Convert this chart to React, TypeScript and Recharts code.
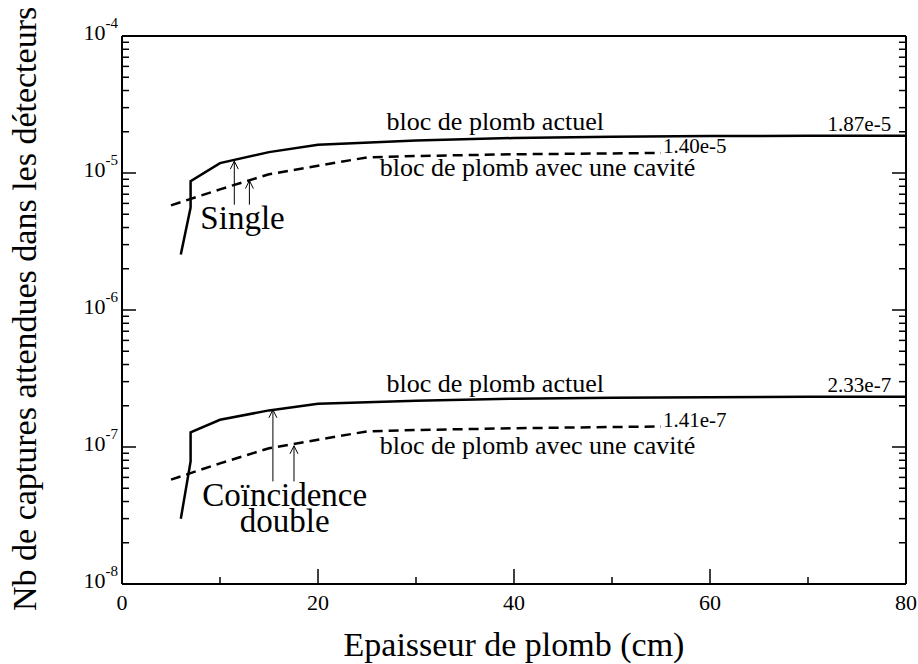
import React from 'react';
import { LineChart, Line, XAxis, YAxis, ReferenceLine, ReferenceDot } from 'recharts';

// épaisseur de plomb (cm)
const xActuel = [6, 7, 7, 10, 15, 20, 30, 40, 50, 60, 70, 80];
const xCavite = [5, 10, 15, 20, 25, 30, 40, 50, 55];

const singleActuel = [2.54e-6, 5.6e-6, 8.7e-6, 1.18e-5, 1.42e-5, 1.61e-5, 1.73e-5, 1.8e-5, 1.84e-5, 1.86e-5, 1.87e-5, 1.87e-5];
const singleCavite = [5.8e-6, 7.6e-6, 9.8e-6, 1.13e-5, 1.3e-5, 1.33e-5, 1.37e-5, 1.39e-5, 1.4e-5];
const doubleActuel = [2.99e-8, 7.85e-8, 1.28e-7, 1.58e-7, 1.85e-7, 2.07e-7, 2.18e-7, 2.25e-7, 2.29e-7, 2.31e-7, 2.33e-7, 2.33e-7];
const doubleCavite = [5.78e-8, 7.6e-8, 9.8e-8, 1.13e-7, 1.3e-7, 1.33e-7, 1.37e-7, 1.4e-7, 1.41e-7];

const xTicks = [0, 10, 20, 30, 40, 50, 60, 70, 80];
const xMajor = [0, 20, 40, 60, 80];
const decades = [-8, -7, -6, -5, -4];
const yTicks = decades.flatMap((e) =>
  e === -4 ? [1e-4] : [1, 2, 3, 4, 5, 6, 7, 8, 9].map((m) => m * Math.pow(10, e))
);

const FONT = 'Liberation Serif';
const serif = { fontFamily: FONT };

const toRows = (xs: number[], ys: number[]) => xs.map((x, i) => ({ x, y: ys[i] }));

const isMajorY = (v: number) => {
  const l = Math.log10(v);
  return Math.abs(l - Math.round(l)) < 1e-6;
};

const LeftTick = (props: any) => {
  const { x, y, payload } = props;
  const v = payload.value;
  const major = isMajorY(v);
  const exp = Math.round(Math.log10(v));
  return (
    <g>
      <line x1={x} x2={x + (major ? 14 : 7)} y1={y} y2={y} stroke="#000" strokeWidth={1.5} />
      {major && (
        <text x={x - 4} y={y + 4} textAnchor="end" style={serif} fontSize={22} fill="#000">
          10<tspan dy={-12} fontSize={15}>{exp}</tspan>
        </text>
      )}
    </g>
  );
};

const RightTick = (props: any) => {
  const { x, y, payload } = props;
  const major = isMajorY(payload.value);
  return <line x1={x} x2={x - (major ? 14 : 7)} y1={y} y2={y} stroke="#000" strokeWidth={1.5} />;
};

const BottomTick = (props: any) => {
  const { x, y, payload } = props;
  const major = xMajor.includes(payload.value);
  return (
    <g>
      <line x1={x} x2={x} y1={y} y2={y - (major ? 15 : 7)} stroke="#000" strokeWidth={1.5} />
      {major && (
        <text x={x} y={y + 26} textAnchor="middle" style={serif} fontSize={22} fill="#000">
          {payload.value}
        </text>
      )}
    </g>
  );
};

const TopTick = (props: any) => {
  const { x, y, payload } = props;
  const major = xMajor.includes(payload.value);
  return <line x1={x} x2={x} y1={y} y2={y + (major ? 15 : 7)} stroke="#000" strokeWidth={1.5} />;
};

const arrowShape = (p: any) => (
  <g>
    <line x1={p.x1} y1={p.y1} x2={p.x2} y2={p.y2} stroke="#000" strokeWidth={1} />
    <polyline
      points={`${p.x2 - 4},${p.y2 + 8} ${p.x2},${p.y2} ${p.x2 + 4},${p.y2 + 8}`}
      fill="none"
      stroke="#000"
      strokeWidth={1}
    />
  </g>
);

const textShape = (label: string, size: number, anchor: string, dx: number, dy: number) => (p: any) => (
  <text x={p.cx + dx} y={p.cy + dy} textAnchor={anchor} style={serif} fontSize={size} fill="#000">
    {label}
  </text>
);

const axisProps = { stroke: '#000', strokeWidth: 2 };

export default function App() {
  return (
    <div style={{ position: 'absolute', left: 0, top: 0, width: 918, height: 664, fontFamily: FONT }}>
      <LineChart width={918} height={664} margin={{ top: 0, right: 0, bottom: 0, left: 0 }}>
        <XAxis
          xAxisId="bottom"
          dataKey="x"
          type="number"
          domain={[0, 80]}
          ticks={xTicks}
          interval={0}
          height={80}
          tickSize={0}
          tickMargin={0}
          tickLine={false}
          axisLine={axisProps}
          tick={<BottomTick />}
          label={{
            content: (p: any) => (
              <text
                x={p.viewBox.x + p.viewBox.width / 2}
                y={p.viewBox.y + 72}
                textAnchor="middle"
                style={serif}
                fontSize={34}
                fill="#000"
              >
                Epaisseur de plomb (cm)
              </text>
            ),
          }}
        />
        <XAxis
          xAxisId="top"
          orientation="top"
          dataKey="x"
          type="number"
          domain={[0, 80]}
          ticks={xTicks}
          interval={0}
          height={36}
          tickSize={0}
          tickMargin={0}
          tickLine={false}
          axisLine={axisProps}
          tick={<TopTick />}
        />
        <YAxis
          yAxisId="left"
          type="number"
          scale="log"
          domain={[1e-8, 1e-4]}
          allowDataOverflow
          ticks={yTicks}
          interval={0}
          width={122}
          tickSize={0}
          tickMargin={0}
          tickLine={false}
          axisLine={axisProps}
          tick={<LeftTick />}
          label={{
            content: (p: any) => {
              const tx = p.viewBox.x + 36;
              const ty = p.viewBox.y + p.viewBox.height + 27;
              return (
                <text
                  x={tx}
                  y={ty}
                  transform={`rotate(-90 ${tx} ${ty})`}
                  textAnchor="start"
                  style={serif}
                  fontSize={34}
                  fill="#000"
                >
                  Nb de captures attendues dans les détecteurs
                </text>
              );
            },
          }}
        />
        <YAxis
          yAxisId="right"
          orientation="right"
          type="number"
          scale="log"
          domain={[1e-8, 1e-4]}
          allowDataOverflow
          ticks={yTicks}
          interval={0}
          width={12}
          tickSize={0}
          tickMargin={0}
          tickLine={false}
          axisLine={axisProps}
          tick={<RightTick />}
        />

        <Line xAxisId="bottom" yAxisId="left" data={toRows(xActuel, singleActuel)} dataKey="y" type="linear"
          stroke="#000" strokeWidth={2.5} dot={false} isAnimationActive={false} />
        <Line xAxisId="bottom" yAxisId="left" data={toRows(xCavite, singleCavite)} dataKey="y" type="linear"
          stroke="#000" strokeWidth={2.5} strokeDasharray="10 6" dot={false} isAnimationActive={false} />
        <Line xAxisId="bottom" yAxisId="left" data={toRows(xActuel, doubleActuel)} dataKey="y" type="linear"
          stroke="#000" strokeWidth={2.5} dot={false} isAnimationActive={false} />
        <Line xAxisId="bottom" yAxisId="left" data={toRows(xCavite, doubleCavite)} dataKey="y" type="linear"
          stroke="#000" strokeWidth={2.5} strokeDasharray="10 6" dot={false} isAnimationActive={false} />

        {/* flèches */}
        <ReferenceLine xAxisId="bottom" yAxisId="left" segment={[{ x: 11.46, y: 5.87e-6 }, { x: 11.46, y: 1.22e-5 }]} shape={arrowShape} />
        <ReferenceLine xAxisId="bottom" yAxisId="left" segment={[{ x: 13, y: 5.87e-6 }, { x: 13, y: 8.8e-6 }]} shape={arrowShape} />
        <ReferenceLine xAxisId="bottom" yAxisId="left" segment={[{ x: 15.4, y: 5.61e-8 }, { x: 15.4, y: 1.87e-7 }]} shape={arrowShape} />
        <ReferenceLine xAxisId="bottom" yAxisId="left" segment={[{ x: 17.55, y: 5.61e-8 }, { x: 17.55, y: 1.02e-7 }]} shape={arrowShape} />

        {/* textes */}
        <ReferenceDot xAxisId="bottom" yAxisId="left" x={27} y={1.87e-5} r={0} shape={textShape('bloc de plomb actuel', 26, 'start', 0, -6)} />
        <ReferenceDot xAxisId="bottom" yAxisId="left" x={72} y={1.87e-5} r={0} shape={textShape('1.87e-5', 21, 'start', 0, -5)} />
        <ReferenceDot xAxisId="bottom" yAxisId="left" x={26.3} y={1.4e-5} r={0} shape={textShape('bloc de plomb avec une cavité', 26, 'start', 0, 23)} />
        <ReferenceDot xAxisId="bottom" yAxisId="left" x={55} y={1.4e-5} r={0} shape={textShape('1.40e-5', 21, 'start', 2, 0)} />
        <ReferenceDot xAxisId="bottom" yAxisId="left" x={27} y={2.33e-7} r={0} shape={textShape('bloc de plomb actuel', 26, 'start', 0, -5)} />
        <ReferenceDot xAxisId="bottom" yAxisId="left" x={72} y={2.33e-7} r={0} shape={textShape('2.33e-7', 21, 'start', 0, -5)} />
        <ReferenceDot xAxisId="bottom" yAxisId="left" x={26.3} y={1.41e-7} r={0} shape={textShape('bloc de plomb avec une cavité', 26, 'start', 0, 27)} />
        <ReferenceDot xAxisId="bottom" yAxisId="left" x={55} y={1.41e-7} r={0} shape={textShape('1.41e-7', 21, 'start', 2, 0)} />
        <ReferenceDot xAxisId="bottom" yAxisId="left" x={12.3} y={3.9e-6} r={0} shape={textShape('Single', 33, 'middle', 0, 0)} />
        <ReferenceDot xAxisId="bottom" yAxisId="left" x={16.6} y={3.69e-8} r={0} shape={textShape('Coïncidence', 33, 'middle', 0, 0)} />
        <ReferenceDot xAxisId="bottom" yAxisId="left" x={16.6} y={2.39e-8} r={0} shape={textShape('double', 33, 'middle', 0, 0)} />
      </LineChart>
    </div>
  );
}
